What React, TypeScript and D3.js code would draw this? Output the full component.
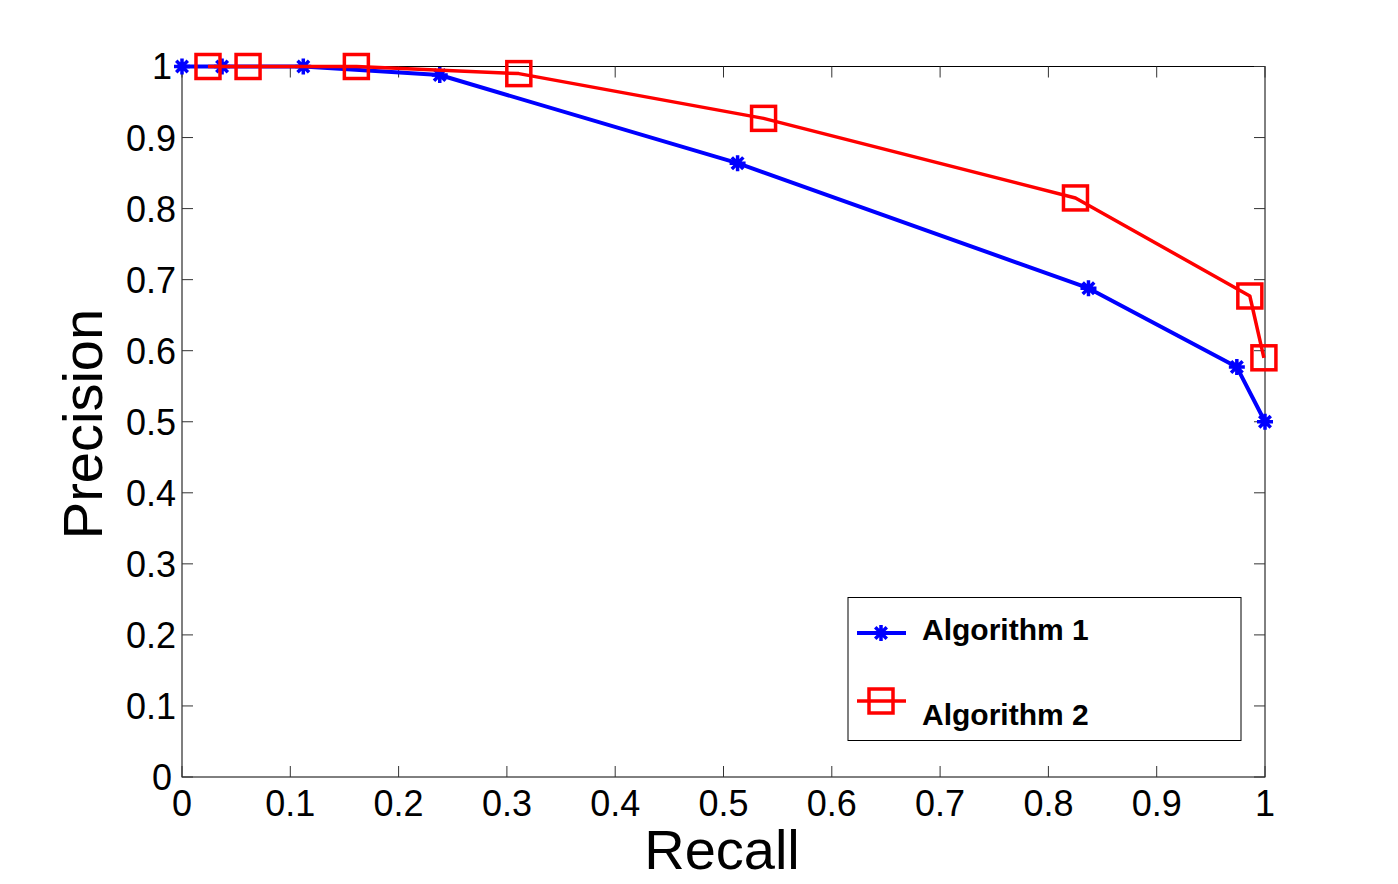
import * as d3 from 'd3'

// recall / precision
const recall1 = [0, 0.037, 0.112, 0.238, 0.513, 0.837, 0.974, 1.0]
const precision1 = [1, 1, 1, 0.988, 0.864, 0.688, 0.577, 0.5]
const recall2 = [0.024, 0.061, 0.161, 0.311, 0.537, 0.825, 0.986, 0.999]
const precision2 = [1, 1, 1, 0.99, 0.927, 0.815, 0.677, 0.59]
const seriesNames = ['Algorithm 1', 'Algorithm 2']
const xTicks = [0, 0.1, 0.2, 0.3, 0.4, 0.5, 0.6, 0.7, 0.8, 0.9, 1]
const yTicks = [0, 0.1, 0.2, 0.3, 0.4, 0.5, 0.6, 0.7, 0.8, 0.9, 1]

const width = 1398, height = 884
const left = 182, right = 1265, top = 66.5, bottom = 777
const font = 'Arial, "Liberation Sans", sans-serif'

const x = d3.scaleLinear().domain([0, 1]).range([left, right])
const y = d3.scaleLinear().domain([0, 1]).range([bottom, top])

const line = d3.line<[number, number]>()
    .x(d => x(d[0]))
    .y(d => y(d[1]))

// matlab style asterisk: + and x on top of each other
function star(cx: number, cy: number, r: number) {
    const d = r * 0.72
    return `M${cx - r},${cy}L${cx + r},${cy}M${cx},${cy - r}L${cx},${cy + r}` +
        `M${cx - d},${cy - d}L${cx + d},${cy + d}M${cx - d},${cy + d}L${cx + d},${cy - d}`
}

const fmt = (v: number) => (v === 0 || v === 1 ? String(v) : v.toFixed(1))

export default function App() {
    const pts1 = recall1.map((r, i) => [r, precision1[i]] as [number, number])
    const pts2 = recall2.map((r, i) => [r, precision2[i]] as [number, number])
    const sq = 24

    return (
        <svg width={width} height={height} style={{ position: 'absolute', left: 0, top: 0, background: '#fff' }}
            fontFamily={font}>
            <rect x={0} y={0} width={width} height={height} fill="#fff" />

            {/* axes box */}
            <rect x={left} y={top} width={right - left} height={bottom - top} fill="none" stroke="#000" strokeWidth={1} />

            {xTicks.map(t => (
                <g key={'x' + t}>
                    <line x1={x(t)} x2={x(t)} y1={bottom} y2={bottom - 11} stroke="#333" />
                    <line x1={x(t)} x2={x(t)} y1={top} y2={top + 11} stroke="#333" />
                    <text x={x(t)} y={816} fontSize={36} textAnchor="middle">{fmt(t)}</text>
                </g>
            ))}
            {yTicks.map(t => (
                <g key={'y' + t}>
                    <line x1={left} x2={left + 11} y1={y(t)} y2={y(t)} stroke="#333" />
                    <line x1={right} x2={right - 11} y1={y(t)} y2={y(t)} stroke="#333" />
                    <text x={t === 0 || t === 1 ? 172 : 176} y={y(t)} dy="0.36em" fontSize={36} textAnchor="end">{fmt(t)}</text>
                </g>
            ))}

            <text x={722} y={869} fontSize={56} textAnchor="middle">Recall</text>
            <text transform={`translate(102,424) rotate(-90)`} fontSize={56} textAnchor="middle">Precision</text>

            {/* Algorithm 1 */}
            <path d={line(pts1) ?? ''} fill="none" stroke="#0000ff" strokeWidth={4} strokeLinejoin="round" />
            {pts1.map((p, i) => (
                <path key={'s' + i} d={star(x(p[0]), y(p[1]), 8)} stroke="#0000ff" strokeWidth={3.5} />
            ))}

            {/* Algorithm 2 */}
            <path d={line(pts2) ?? ''} fill="none" stroke="#ff0000" strokeWidth={3.5} strokeLinejoin="round" />
            {pts2.map((p, i) => (
                <rect key={'q' + i} x={x(p[0]) - sq / 2} y={y(p[1]) - sq / 2} width={sq} height={sq}
                    fill="none" stroke="#ff0000" strokeWidth={3.5} />
            ))}

            {/* legend */}
            <rect x={848} y={597.5} width={393} height={143} fill="#fff" stroke="#000" strokeWidth={1} />
            <line x1={857} x2={906} y1={633} y2={633} stroke="#0000ff" strokeWidth={4} />
            <path d={star(881, 633, 8)} stroke="#0000ff" strokeWidth={3.5} />
            <text x={922} y={640} fontSize={30} fontWeight="bold">{seriesNames[0]}</text>
            <line x1={857} x2={906} y1={701} y2={701} stroke="#ff0000" strokeWidth={3.5} />
            <rect x={881 - sq / 2} y={701 - sq / 2} width={sq} height={sq} fill="none" stroke="#ff0000" strokeWidth={3.5} />
            <text x={922} y={725} fontSize={30} fontWeight="bold">{seriesNames[1]}</text>
        </svg>
    )
}
